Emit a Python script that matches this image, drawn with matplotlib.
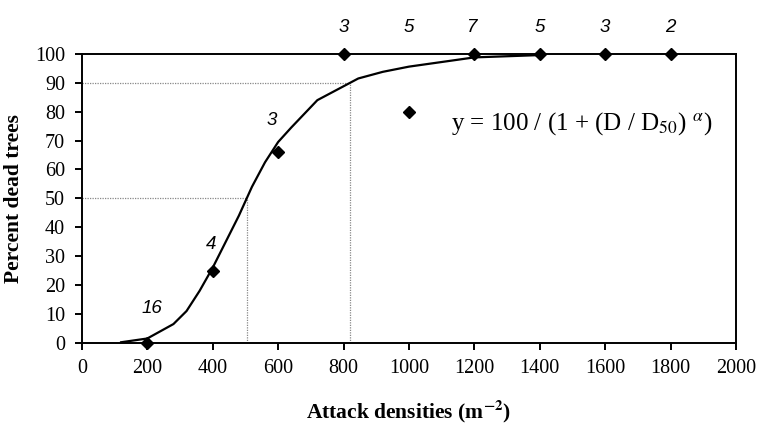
import matplotlib
matplotlib.use('Agg')
import matplotlib.pyplot as plt

# observed points (attack density, percent dead) and sample sizes
dens = [200, 400, 600, 800, 1000, 1200, 1400, 1600, 1800]
pct_dead = [0, 25, 66, 100, 80, 100, 100, 100, 100]
n_trees = ['16', '4', '3', '3', '5', '7', '5', '3', '2']
label_x = [215, 395, 580, 800, 1000, 1190, 1400, 1600, 1800]
label_y = [12, 34, 77, 109, 109, 109, 109, 109, 109]

# fitted curve
curve_x = [120, 200, 280, 320, 360, 400, 440, 480, 520, 560, 600, 640, 720, 845, 920, 1000, 1200, 1400]
curve_y = [0.2, 1.5, 6.5, 11, 18, 26, 35, 44, 54, 62.5, 69.5, 74.5, 84, 91.5, 93.8, 95.6, 98.8, 99.6]

d50 = 505
d90 = 820

fig = plt.figure(figsize=(7.58, 4.28), dpi=100)
ax = fig.add_axes([0.108, 0.199, 0.863, 0.675])

serif = 'Liberation Serif'
sans = 'Liberation Sans'

# dotted guide lines at 50% and 90%
guide = dict(color='#888888', lw=0.9, ls=(0, (1, 1)))
ax.plot([0, d50], [50, 50], **guide)
ax.plot([d50, d50], [0, 50], **guide)
ax.plot([0, d90], [90, 90], **guide)
ax.plot([d90, d90], [0, 90], **guide)

ax.plot(curve_x, curve_y, color='black', lw=1.6, zorder=3)
ax.plot(dens, pct_dead, ls='none', marker='D', ms=6.5, color='black', clip_on=False, zorder=4)

for x, y, t in zip(label_x, label_y, n_trees):
    ax.text(x, y, t, ha='center', va='center', fontsize=13.5, style='italic', family=sans, clip_on=False)

ax.text(1130, 76, r'y = 100 / (1 + (D / D$_{50}$) $^{\alpha}$)', fontsize=18, family=serif, va='center',
        math_fontfamily='stix')

ax.set_xlim(0, 2000)
ax.set_ylim(0, 100)
ax.set_xticks(range(0, 2001, 200))
ax.set_yticks(range(0, 101, 10))
for s in ax.spines.values():
    s.set_linewidth(1.4)
ax.tick_params(direction='out', length=5, width=1.4, labelsize=14.5, pad=7)
for lab in ax.get_xticklabels() + ax.get_yticklabels():
    lab.set_family(serif)

ax.set_ylabel('Percent dead trees', fontsize=15.5, fontweight='bold', family=serif, labelpad=8)
ax.set_xlabel(r'Attack densities (m$^{\mathbf{-2}}$)', fontsize=15.5, fontweight='bold', family=serif, labelpad=14,
              math_fontfamily='stix')

fig.savefig('out.png', dpi=100)
